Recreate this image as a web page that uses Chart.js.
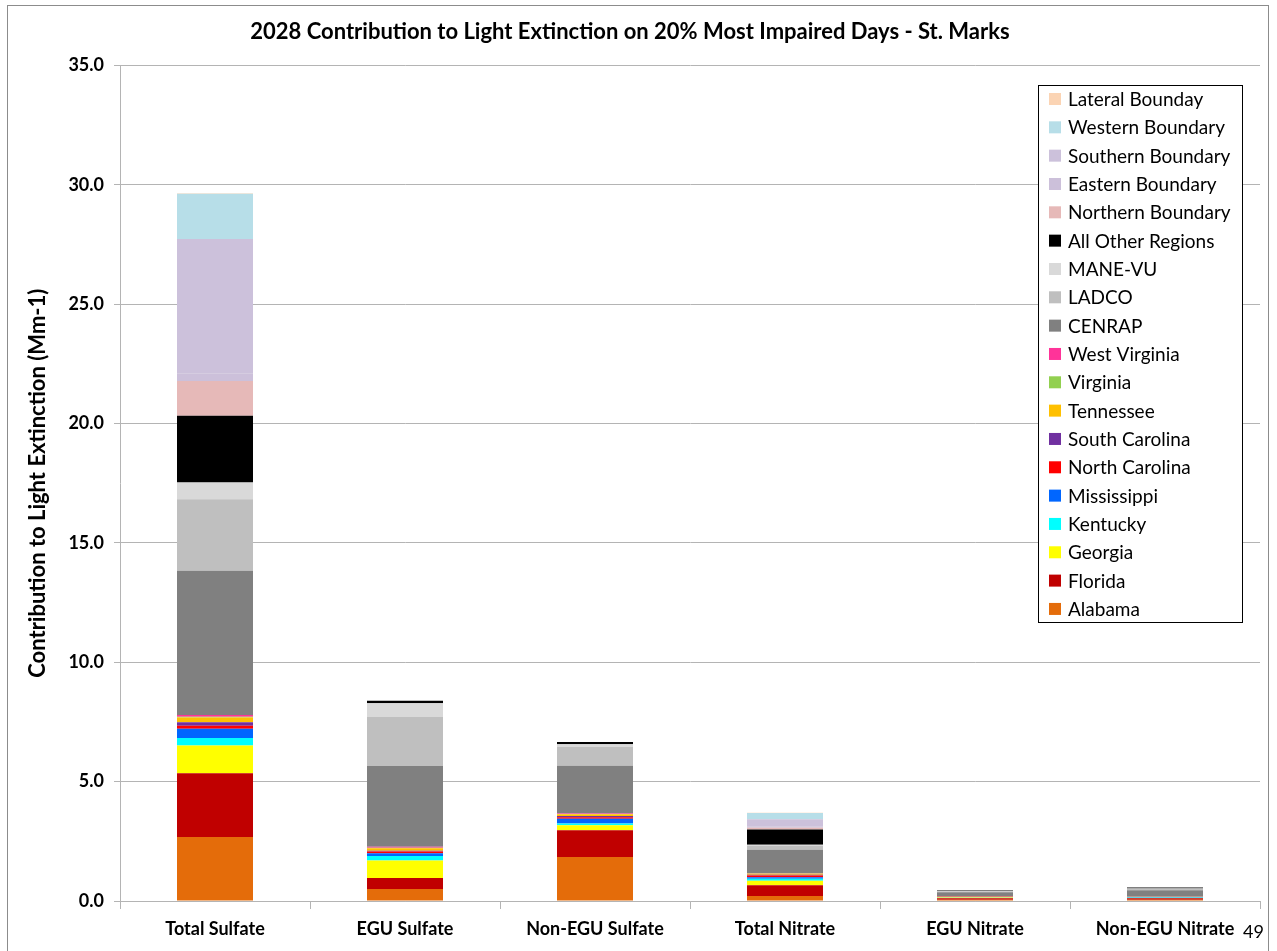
<!DOCTYPE html>
<html>
<head>
<meta charset="utf-8">
<script src="https://cdn.jsdelivr.net/npm/chart.js@4/dist/chart.umd.min.js"></script>
<style>
  html, body { margin: 0; padding: 0; background: #fff; }
  #wrap { position: relative; width: 1277px; height: 951px; overflow: hidden; }
  #frame { position: absolute; left: 7px; top: 5px; width: 1260px; height: 980px; border: 1px solid #8c8c8c; pointer-events: none; }
  #page { position: absolute; left: 1243px; top: 920px; font: 18px Lato, sans-serif; color: #000; }
</style>
</head>
<body>
<div id="wrap">
  <canvas id="chart" width="1277" height="951"></canvas>
  <div id="frame"></div>
  <div id="page">49</div>
</div>
<script>
// categories along the x axis
const categories = ['Total Sulfate', 'EGU Sulfate', 'Non-EGU Sulfate', 'Total Nitrate', 'EGU Nitrate', 'Non-EGU Nitrate'];

// contributions (Mm-1), stacked bottom to top
const alabama       = [2.68, 0.50, 1.84, 0.21, 0.05, 0.05];
const florida       = [2.67, 0.46, 1.12, 0.45, 0.07, 0.07];
const georgia       = [1.16, 0.74, 0.21, 0.19, 0.03, 0.01];
const kentucky      = [0.32, 0.19, 0.08, 0.08, 0.01, 0.02];
const mississippi   = [0.39, 0.11, 0.20, 0.07, 0.01, 0.01];
const northCarolina = [0.12, 0.07, 0.06, 0.07, 0.01, 0.01];
const southCarolina = [0.15, 0.04, 0.05, 0.03, 0.005, 0.005];
const tennessee     = [0.20, 0.10, 0.07, 0.04, 0.01, 0.01];
const virginia      = [0.03, 0.02, 0.01, 0.01, 0.00, 0.00];
const westVirginia  = [0.07, 0.04, 0.02, 0.01, 0.00, 0.00];
const cenrap        = [6.04, 3.38, 2.00, 0.99, 0.17, 0.27];
const ladco         = [3.00, 2.07, 0.80, 0.16, 0.04, 0.05];
const manevu        = [0.70, 0.56, 0.11, 0.05, 0.01, 0.02];
const allOther      = [2.80, 0.11, 0.09, 0.64, 0.02, 0.04];
const northernBnd   = [1.45, 0.00, 0.00, 0.07, 0.00, 0.00];
const easternBnd    = [0.33, 0.00, 0.00, 0.06, 0.00, 0.00];
const southernBnd   = [5.62, 0.00, 0.00, 0.29, 0.00, 0.00];
const westernBnd    = [1.89, 0.00, 0.00, 0.27, 0.00, 0.00];
const lateralBnd    = [0.02, 0.00, 0.00, 0.01, 0.00, 0.00];

const yTicks = [0, 5, 10, 15, 20, 25, 30, 35];

const series = [
  ['Alabama', alabama, '#E46C0A'],
  ['Florida', florida, '#C00000'],
  ['Georgia', georgia, '#FFFF00'],
  ['Kentucky', kentucky, '#00FFFF'],
  ['Mississippi', mississippi, '#0066FF'],
  ['North Carolina', northCarolina, '#FF0000'],
  ['South Carolina', southCarolina, '#7030A0'],
  ['Tennessee', tennessee, '#FFC000'],
  ['Virginia', virginia, '#92D050'],
  ['West Virginia', westVirginia, '#FF3399'],
  ['CENRAP', cenrap, '#808080'],
  ['LADCO', ladco, '#BFBFBF'],
  ['MANE-VU', manevu, '#D9D9D9'],
  ['All Other Regions', allOther, '#000000'],
  ['Northern Boundary', northernBnd, '#E6B9B8'],
  ['Eastern Boundary', easternBnd, '#CCC0DA'],
  ['Southern Boundary', southernBnd, '#CCC1DB'],
  ['Western Boundary', westernBnd, '#B7DEE8'],
  ['Lateral Bounday', lateralBnd, '#FBD4B4'],
];

const FONT = 'Lato';

// legend box drawn inside the plot, top item = last dataset
const boxLegend = {
  id: 'boxLegend',
  afterDraw(chart) {
    const ctx = chart.ctx;
    const x = 1038, y = 85, w = 204, h = 537, step = 28.33;
    ctx.save();
    ctx.fillStyle = '#fff';
    ctx.fillRect(x, y, w, h);
    ctx.strokeStyle = '#000';
    ctx.lineWidth = 1;
    ctx.strokeRect(x + 0.5, y + 0.5, w, h);
    ctx.font = '19px ' + FONT;
    ctx.textBaseline = 'middle';
    const ds = chart.data.datasets.slice().reverse();
    ds.forEach((d, i) => {
      const cy = 99 + i * step;
      ctx.fillStyle = d.backgroundColor;
      ctx.fillRect(1049, cy - 6, 12, 12);
      ctx.fillStyle = '#000';
      ctx.fillText(d.label, 1068, cy + 1);
    });
    ctx.restore();
  }
};

new Chart(document.getElementById('chart'), {
  type: 'bar',
  data: {
    labels: categories,
    datasets: series.map(([label, data, color]) => ({
      label, data, backgroundColor: color, borderWidth: 0,
      categoryPercentage: 1, barPercentage: 0.4
    }))
  },
  options: {
    responsive: false,
    animation: false,
    layout: { padding: { left: 0, right: 17, top: 0, bottom: 0 } },
    plugins: {
      legend: { display: false },
      tooltip: { enabled: false },
      title: {
        display: true,
        text: '2028 Contribution to Light Extinction on 20% Most Impaired Days - St. Marks',
        color: '#000',
        font: { family: FONT, size: 22, weight: 'bold' },
        padding: { top: 19, bottom: 20 }
      }
    },
    scales: {
      x: {
        stacked: true,
        grid: { drawOnChartArea: false, drawTicks: true, tickLength: 8, color: '#b4b4b4' },
        border: { color: '#b4b4b4' },
        ticks: {
          color: '#000', maxRotation: 0, autoSkip: false, padding: 9,
          font: { family: FONT, size: 18, weight: 'bold' }
        },
        afterFit(s) { s.height = 50; }
      },
      y: {
        stacked: true,
        min: 0, max: 35,
        afterBuildTicks(s) { s.ticks = yTicks.map(v => ({ value: v })); },
        grid: { color: '#b4b4b4', tickLength: 6 },
        border: { color: '#b4b4b4' },
        ticks: {
          color: '#000', padding: 10,
          font: { family: FONT, size: 18, weight: 'bold' },
          callback: v => Number(v).toFixed(1)
        },
        title: {
          display: true,
          text: 'Contribution to Light Extinction (Mm-1)',
          color: '#000',
          font: { family: FONT, size: 22, weight: 'bold' },
          padding: { top: 25, bottom: 0 }
        },
        afterFit(s) { s.width = 120; }
      }
    }
  },
  plugins: [boxLegend]
});
</script>
</body>
</html>
